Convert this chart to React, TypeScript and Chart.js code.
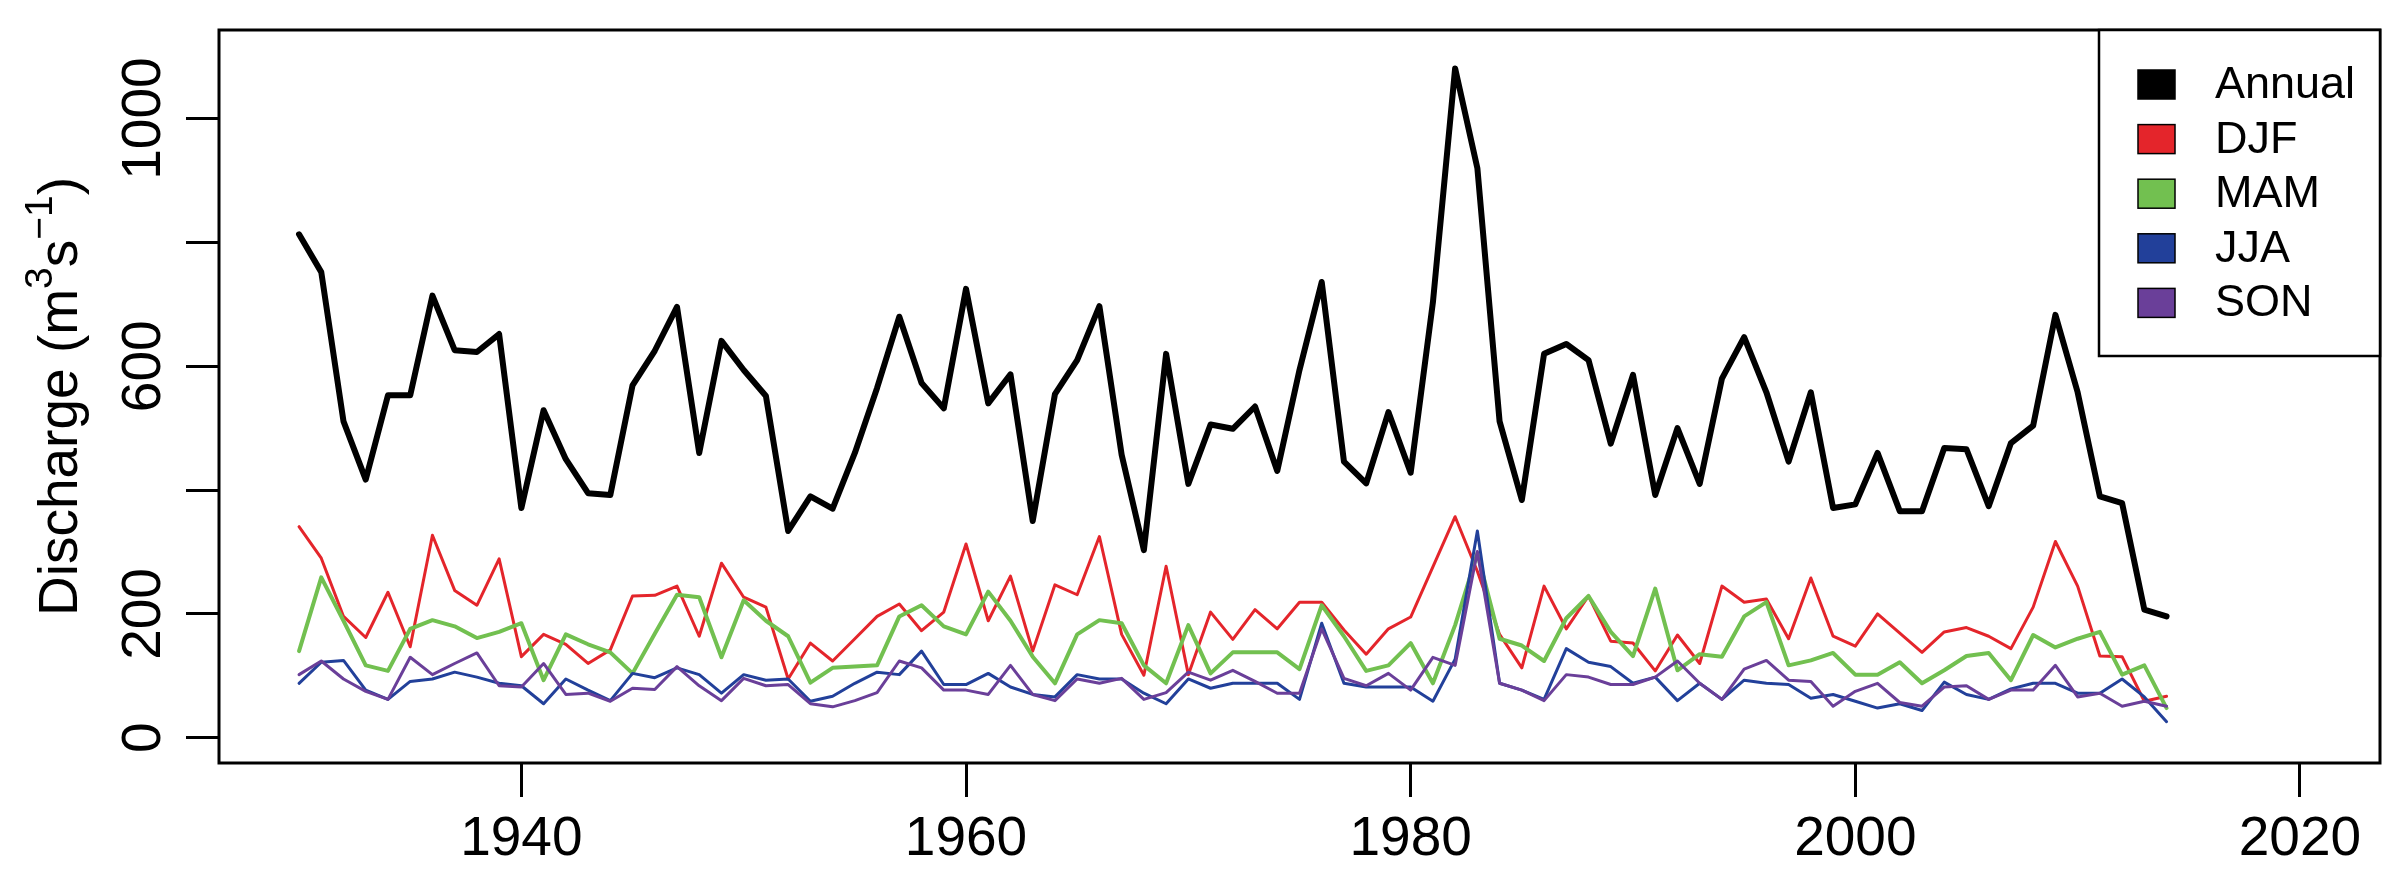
import React, { useEffect, useRef } from 'react';
import Chart from 'chart.js/auto';

const FONT = '"Liberation Sans", Arial, Helvetica, sans-serif';
const FIRST_YEAR = 1930;

// annual and seasonal mean discharge, m3/s, 1930-2014
const annual = [
  813, 752, 511, 417, 553, 553, 714, 626, 623, 652,
  371, 529, 450, 395, 392, 569, 625, 696, 460, 641,
  594, 552, 334, 390, 370, 460, 565, 680, 573, 532,
  725, 540, 587, 350, 555, 610, 697, 457, 303, 620,
  410, 506, 499, 535, 431, 594, 736, 446, 411, 526,
  428, 703, 1081, 920, 511, 384, 620, 636, 610, 475,
  586, 392, 500, 410, 580, 647, 558, 446, 558, 371,
  377, 460, 366, 366, 468, 466, 374, 476, 504, 683,
  558, 390, 379, 207, 196,
];
const djf = [
  341, 290, 196, 162, 235, 147, 327, 238, 214, 289,
  131, 167, 151, 120, 142, 229, 230, 245, 164, 282,
  227, 211, 95, 153, 124, 160, 196, 216, 173, 203,
  313, 189, 261, 140, 247, 231, 325, 167, 101, 277,
  102, 203, 159, 207, 176, 219, 219, 174, 135, 176,
  195, 276, 357, 269, 167, 113, 245, 176, 229, 156,
  153, 108, 166, 120, 245, 219, 224, 160, 258, 164,
  148, 200, 169, 138, 171, 178, 164, 144, 211, 317,
  245, 132, 131, 59, 67,
];
const mam = [
  140, 259, 189, 117, 108, 176, 190, 180, 161, 171,
  185, 93, 167, 151, 138, 104, 168, 231, 227, 130,
  222, 189, 164, 89, 113, 115, 117, 196, 214, 180,
  167, 236, 189, 131, 88, 167, 190, 185, 117, 88,
  182, 104, 138, 138, 138, 111, 214, 164, 108, 117,
  153, 88, 182, 298, 160, 149, 124, 193, 229, 171,
  132, 241, 109, 135, 131, 196, 219, 117, 125, 137,
  102, 102, 122, 88, 109, 132, 137, 93, 166, 146,
  160, 171, 102, 117, 48,
];
const jja = [
  88, 122, 125, 77, 62, 91, 95, 106, 98, 88,
  84, 55, 95, 77, 60, 104, 97, 113, 102, 72,
  102, 93, 95, 59, 67, 88, 106, 102, 140, 86,
  86, 104, 82, 70, 66, 102, 95, 95, 72, 55,
  95, 80, 88, 88, 88, 62, 185, 88, 82, 82,
  82, 59, 127, 334, 88, 77, 62, 144, 122, 115,
  88, 98, 60, 88, 62, 93, 88, 86, 64, 70,
  59, 48, 55, 44, 90, 70, 62, 79, 88, 88,
  72, 72, 95, 66, 26,
];
const son = [
  102, 124, 95, 75, 62, 130, 102, 120, 137, 84,
  82, 120, 70, 72, 59, 80, 78, 115, 84, 60,
  96, 84, 86, 55, 50, 60, 73, 124, 113, 77,
  77, 70, 117, 70, 60, 95, 88, 96, 62, 73,
  106, 93, 109, 91, 72, 72, 176, 96, 84, 104,
  77, 130, 117, 301, 88, 77, 60, 102, 98, 86,
  86, 98, 124, 88, 62, 111, 125, 93, 91, 51,
  75, 88, 57, 51, 82, 84, 62, 77, 77, 117,
  66, 72, 51, 59, 51,
];

const years = annual.map((_, i) => FIRST_YEAR + i);

const xTicks = [1940, 1960, 1980, 2000, 2020];
const yTicks = [0, 200, 400, 600, 800, 1000];
const yTickLabels = [0, 200, 600, 1000]; // R drops 400 and 800 (overlap)

const series = [
  { label: 'Annual', data: annual, color: '#000000', width: 6 },
  { label: 'DJF', data: djf, color: '#E4252B', width: 3 },
  { label: 'MAM', data: mam, color: '#72C050', width: 4 },
  { label: 'JJA', data: jja, color: '#22409A', width: 3 },
  { label: 'SON', data: son, color: '#6A3F99', width: 3 },
];

// box, rotated y labels, y title and the R-style legend
const rFrame = {
  id: 'rFrame',
  afterDraw(chart: any) {
    const { ctx, chartArea: a, scales } = chart;
    ctx.save();
    ctx.strokeStyle = '#000';
    ctx.lineWidth = 3;
    ctx.strokeRect(a.left, a.top, a.right - a.left, a.bottom - a.top);

    ctx.fillStyle = '#000';
    ctx.font = `55px ${FONT}`;
    ctx.textAlign = 'center';
    ctx.textBaseline = 'middle';
    yTickLabels.forEach((v) => {
      const py = scales.y.getPixelForValue(v);
      ctx.save();
      ctx.translate(145, py);
      ctx.rotate(-Math.PI / 2);
      ctx.fillText(String(v), 0, 0);
      ctx.restore();
    });

    // Discharge (m^3 s^-1)
    const size = 55;
    const parts = [
      { t: 'Discharge (m', sup: false },
      { t: '3', sup: true },
      { t: 's', sup: false },
      { t: '\u22121', sup: true },
      { t: ')', sup: false },
    ];
    const fontFor = (sup: boolean) => `${sup ? Math.round(size * 0.7) : size}px ${FONT}`;
    let total = 0;
    parts.forEach((p) => {
      ctx.font = fontFor(p.sup);
      total += ctx.measureText(p.t).width;
    });
    ctx.save();
    ctx.translate(77, (a.top + a.bottom) / 2);
    ctx.rotate(-Math.PI / 2);
    ctx.textAlign = 'left';
    ctx.textBaseline = 'alphabetic';
    let cx = -total / 2;
    parts.forEach((p) => {
      ctx.font = fontFor(p.sup);
      ctx.fillText(p.t, cx, p.sup ? -size * 0.45 : 0);
      cx += ctx.measureText(p.t).width;
    });
    ctx.restore();

    // legend
    const lx = 2099;
    ctx.fillStyle = '#fff';
    ctx.fillRect(lx, a.top, a.right - lx, 356 - a.top);
    ctx.lineWidth = 2.5;
    ctx.strokeRect(lx, a.top, a.right - lx, 356 - a.top);
    ctx.font = `45px ${FONT}`;
    ctx.textAlign = 'left';
    ctx.textBaseline = 'middle';
    series.forEach((s, i) => {
      const cy = 84.5 + i * 54.6;
      ctx.fillStyle = s.color;
      ctx.fillRect(2138, cy - 14.5, 37, 29);
      ctx.lineWidth = 1.5;
      ctx.strokeStyle = '#000';
      ctx.strokeRect(2138, cy - 14.5, 37, 29);
      ctx.fillStyle = '#000';
      ctx.fillText(s.label, 2215, cy + 1);
    });
    ctx.restore();
  },
};

const DischargeChart = () => {
  const canvasRef = useRef<HTMLCanvasElement | null>(null);

  useEffect(() => {
    const ctx = canvasRef.current?.getContext('2d') as any;
    const chart = new Chart(ctx, {
      type: 'line',
      data: {
        datasets: series.map((s, i) => ({
          label: s.label,
          data: s.data.map((v, j) => ({ x: years[j], y: v })),
          borderColor: s.color,
          borderWidth: s.width,
          pointRadius: 0,
          tension: 0,
          fill: false,
          borderJoinStyle: 'round',
          borderCapStyle: 'round',
          order: series.length - i,
        })),
      },
      options: {
        responsive: false,
        animation: false,
        devicePixelRatio: 1,
        events: [],
        layout: { padding: { top: 30, right: 20, left: 0, bottom: 0 } },
        plugins: {
          legend: { display: false },
          tooltip: { enabled: false },
        },
        scales: {
          x: {
            type: 'linear',
            position: 'bottom',
            min: 1926.4,
            max: 2023.6,
            afterBuildTicks: (s: any) => {
              s.ticks = xTicks.map((value) => ({ value }));
            },
            afterFit: (s: any) => {
              s.height = 115;
            },
            border: { display: false },
            grid: {
              drawOnChartArea: false,
              drawTicks: true,
              tickLength: 34,
              tickWidth: 3,
              tickColor: '#000',
            },
            ticks: {
              color: '#000',
              font: { family: FONT, size: 55 },
              padding: 10,
              maxRotation: 0,
              autoSkip: false,
              callback: (v: any) => String(v),
            },
          },
          y: {
            type: 'linear',
            position: 'left',
            min: -40.7,
            max: 1143,
            afterBuildTicks: (s: any) => {
              s.ticks = yTicks.map((value) => ({ value }));
            },
            afterFit: (s: any) => {
              s.width = 219;
            },
            border: { display: false },
            grid: {
              drawOnChartArea: false,
              drawTicks: true,
              tickLength: 33,
              tickWidth: 3,
              tickColor: '#000',
            },
            ticks: { display: false },
          },
        },
      } as any,
      plugins: [rFrame],
    });

    return () => {
      chart.destroy();
    };
  }, [canvasRef]);

  return (
    <div style={{ position: 'absolute', left: 0, top: 0, width: 2400, height: 878, background: '#fff' }}>
      <canvas ref={canvasRef} width={2400} height={878} style={{ width: 2400, height: 878 }} />
    </div>
  );
};

export default function App() {
  return <DischargeChart />;
}
